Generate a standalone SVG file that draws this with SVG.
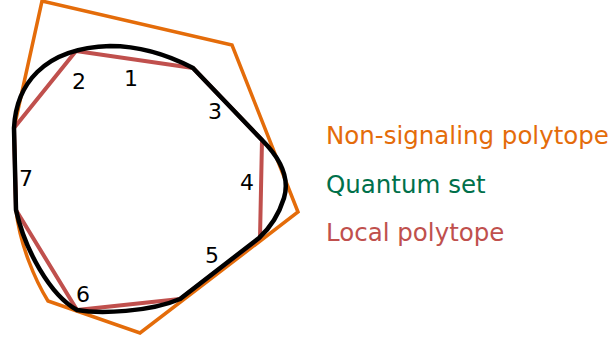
<svg xmlns="http://www.w3.org/2000/svg" width="611" height="341" viewBox="0 0 611 341">
<style>
.ns{fill:none;stroke:#E46C0A;stroke-width:3.5;stroke-linejoin:miter}
.loc{fill:none;stroke:#C0504D;stroke-width:4;stroke-linejoin:round}
.q{fill:none;stroke:#000;stroke-width:4.5;stroke-linejoin:miter}
.num{font-family:"DejaVu Sans","Verdana",sans-serif;font-size:22px;fill:#000;text-anchor:middle}
.leg{font-family:"DejaVu Sans","Verdana",sans-serif;font-size:24.5px}
</style>
<rect width="611" height="341" fill="#fff"/>
<g id="nonsignaling">
<path class="ns" d="M42,1 L232,45 L298,212 L140,333 L48,301 C35,280 20,245 16,210 L14,128 Z"/>
</g>
<g id="local">
<path class="loc" d="M14,128 L76,51 L193,68 L262,140 L260,238 L180,299 L77,310 L16,210 Z"/>
</g>
<g id="quantum">
<path class="q" d="M14,128 C16,86 42,48 110,46 C140,46 170,56 193,68 L262,140 C280,158 290,178 284,198 C279,214 270,228 259,238 L180,299 C150,312 100,314 77,310 C50,295 25,250 16,210 Z"/>
</g>
<g id="labels">
<text class="num" x="131" y="86">1</text>
<text class="num" x="79" y="89">2</text>
<text class="num" x="215" y="119">3</text>
<text class="num" x="247" y="190">4</text>
<text class="num" x="212" y="263">5</text>
<text class="num" x="83" y="302">6</text>
<text class="num" x="26" y="186">7</text>
</g>
<g id="legend">
<text class="leg" x="326" y="144" fill="#E46C0A">Non-signaling polytope</text>
<text class="leg" x="326" y="193" fill="#00704A">Quantum set</text>
<text class="leg" x="326" y="241" fill="#C0504D">Local polytope</text>
</g>
</svg>
